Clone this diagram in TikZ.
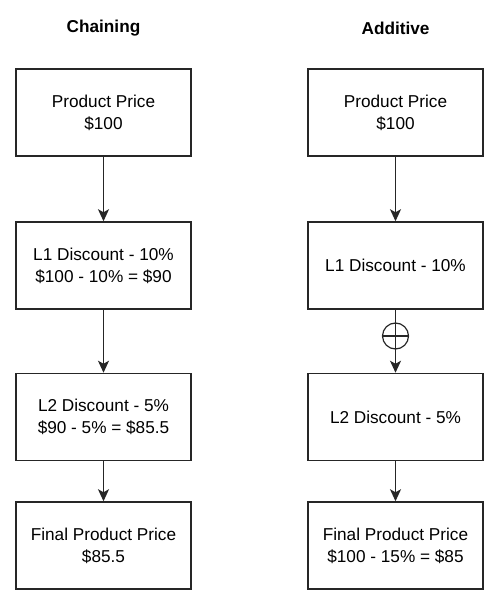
\documentclass[tikz,border=0pt]{standalone}
\usepackage{fontspec}
\setmainfont{Liberation Sans}
\usetikzlibrary{arrows.meta}
\begin{document}
\begin{tikzpicture}[x=1pt,y=-1pt,
  box/.style={draw=black!85,line width=1.5pt,minimum width=175pt,minimum height=87pt,align=center,inner sep=0pt,font=\fontsize{17.2}{22}\selectfont},
  title/.style={font=\fontsize{17.2}{22}\selectfont\bfseries},
  conn/.style={draw=black!85,line width=1.5pt,-{Stealth[length=12pt,width=11pt,inset=3pt]}},
  plus/.style={circle,draw=black!85,line width=1.2pt,minimum size=26pt,inner sep=0pt}]
\useasboundingbox (0,0) rectangle (500,609);
\node[title] (t1) at (103.5,28) {Chaining};
\node[title] (t2) at (395.5,28) {Additive};
\node[box] (a1) at (103.5,112.5) {Product Price\\\$100};
\node[box] (a2) at (103.5,265.5) {L1 Discount - 10\%\\\$100 - 10\% = \$90};
\node[box] (a3) at (103.5,417) {L2 Discount - 5\%\\\$90 - 5\% = \$85.5};
\node[box] (a4) at (103.5,545.5) {Final Product Price\\\$85.5};
\node[box] (b1) at (395.5,112.5) {Product Price\\\$100};
\node[box] (b2) at (395.5,265.5) {L1 Discount - 10\%};
\node[box] (b3) at (395.5,417) {L2 Discount - 5\%};
\node[box] (b4) at (395.5,545.5) {Final Product Price\\\$100 - 15\% = \$85};
\node[plus] (p) at (395.5,336) {};
\draw[draw=black!85,line width=1.2pt] (p.west) -- (p.east);
\draw[conn] (a1) -- (a2);
\draw[conn] (a2) -- (a3);
\draw[conn] (a3) -- (a4);
\draw[conn] (b1) -- (b2);
\draw[conn] (b2) -- (b3);
\draw[conn] (b3) -- (b4);
\end{tikzpicture}
\end{document}
